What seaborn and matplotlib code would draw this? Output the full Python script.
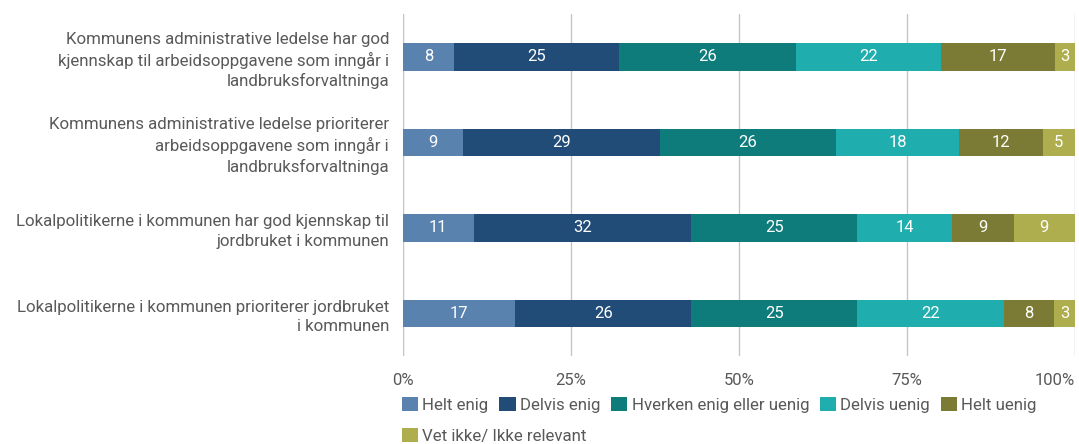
import pandas as pd
import numpy as np
import matplotlib
matplotlib.use('Agg')
import matplotlib.pyplot as plt
import seaborn as sns
from matplotlib.patches import Patch

statements = [
    'Kommunens administrative ledelse har god\nkjennskap til arbeidsoppgavene som inngår i\nlandbruksforvaltninga',
    'Kommunens administrative ledelse prioriterer\narbeidsoppgavene som inngår i\nlandbruksforvaltninga',
    'Lokalpolitikerne i kommunen har god kjennskap til\njordbruket i kommunen',
    'Lokalpolitikerne i kommunen prioriterer jordbruket\ni kommunen',
]
answers = ['Helt enig', 'Delvis enig', 'Hverken enig eller uenig',
           'Delvis uenig', 'Helt uenig', 'Vet ikke/ Ikke relevant']

helt_enig = [7.6, 8.9, 10.5, 16.7]
delvis_enig = [24.6, 29.4, 32.4, 26.2]
hverken = [26.3, 26.1, 24.7, 24.7]
delvis_uenig = [21.6, 18.4, 14.1, 21.8]
helt_uenig = [16.9, 12.4, 9.2, 7.5]
vet_ikke = [3.0, 4.8, 9.1, 3.1]

labels_shown = [
    [8, 25, 26, 22, 17, 3],
    [9, 29, 26, 18, 12, 5],
    [11, 32, 25, 14, 9, 9],
    [17, 26, 25, 22, 8, 3],
]

colors = ['#5A82AE', '#214C78', '#0E7C7B', '#20ADAD', '#7C7B35', '#AFAE4E']
text_color = '#595959'

sns.set_style('white')
plt.rcParams['font.family'] = ['Roboto', 'DejaVu Sans']

df = pd.DataFrame({'statement': statements, 'Helt enig': helt_enig,
                   'Delvis enig': delvis_enig, 'Hverken enig eller uenig': hverken,
                   'Delvis uenig': delvis_uenig, 'Helt uenig': helt_uenig,
                   'Vet ikke/ Ikke relevant': vet_ikke})
cum = df[answers].cumsum(axis=1)

fig = plt.figure(figsize=(10.79, 4.44), dpi=100)
ax = fig.add_axes([0.3735, 0.198, 0.6228, 0.77])

# draw cumulative bars from the widest to the narrowest to get stacked look
for ans, col in reversed(list(zip(answers, colors))):
    sns.barplot(x=cum[ans], y=df['statement'], orient='h', color=col,
                saturation=1, width=0.32, linewidth=0, ax=ax)

for i in range(len(statements)):
    left = 0
    for j, ans in enumerate(answers):
        w = df[ans].iloc[i]
        ax.text(left + w / 2, i, str(labels_shown[i][j]), ha='center', va='center',
                color='white', fontsize=12)
        left += w

ax.set_xlim(0, 100)
ax.set_xticks([0, 25, 50, 75, 100])
ax.set_xticklabels(['0%', '25%', '50%', '75%', '100%'])
ax.xaxis.grid(True, color='#c6c6c6', linewidth=1)
ax.set_axisbelow(True)
ax.axvline(0, color='#a6a6a6', linewidth=1.5, zorder=0)
for s in ax.spines.values():
    s.set_visible(False)
ax.set_xlabel('')
ax.set_ylabel('')
ax.tick_params(axis='x', length=0, pad=12, labelsize=12, labelcolor=text_color)
ax.tick_params(axis='y', length=0, pad=10, labelsize=12.2, labelcolor=text_color)
for t in ax.get_yticklabels():
    t.set_multialignment('right')
    t.set_linespacing(1.35)
xt = ax.get_xticklabels()
xt[-1].set_ha('right')

handles = [Patch(facecolor=c, edgecolor='none', label=a) for a, c in zip(answers, colors)]
leg_kw = dict(frameon=False, fontsize=12.2, handlelength=0.95, handleheight=0.85,
              handletextpad=0.25, columnspacing=0.65, labelcolor=text_color,
              borderaxespad=0, borderpad=0)
fig.legend(handles=handles[:5], ncol=5, loc='center left',
           bbox_to_anchor=(402 / 1079, 1 - 405 / 444), **leg_kw)
fig.legend(handles=handles[5:], ncol=1, loc='center left',
           bbox_to_anchor=(402 / 1079, 1 - 436 / 444), **leg_kw)

fig.savefig('out.png', dpi=100)
